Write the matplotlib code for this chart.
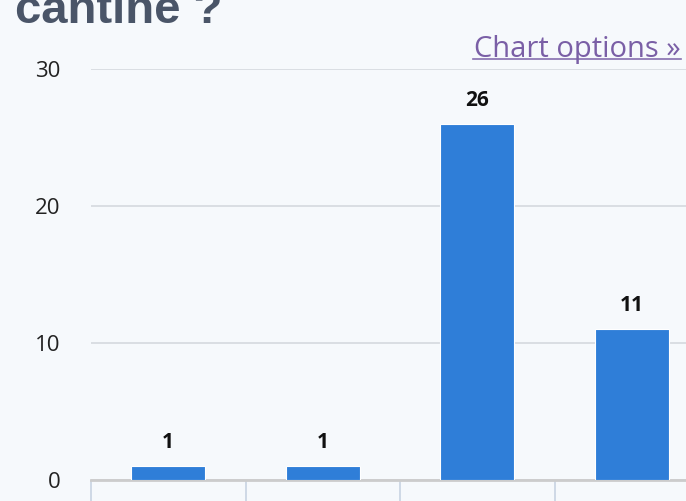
import matplotlib

matplotlib.use("Agg")
import matplotlib.pyplot as plt
from matplotlib.lines import Line2D

# ---------------------------------------------------------------- data
categories = ["A", "B", "C", "D"]
counts = [1, 1, 26, 11]
y_ticks = [0, 10, 20, 30]

BG = "#F6F9FC"
C_BAR = "#2F7ED8"
C_GRID = "#D5D9DE"
C_TITLE = "#4A5568"
C_LINK = "#7A5FA6"

W, H = 686, 501
fig = plt.figure(figsize=(W / 100, H / 100), dpi=100, facecolor=BG)

# axes extends past the right edge (the screenshot is cropped)
x0, x1 = 91, 709
y0, y1 = 480, 69
ax = fig.add_axes([x0 / W, 1 - y0 / H, (x1 - x0) / W, (y0 - y1) / H])
ax.set_facecolor(BG)

xs = list(range(len(categories)))
ax.bar(xs, counts, width=0.48, color=C_BAR, edgecolor="white", linewidth=0.8, zorder=3)
for x, v in zip(xs, counts):
    ax.annotate(str(v), (x, v), textcoords="offset points", xytext=(0, 9.5),
                ha="center", va="bottom", fontsize=15, fontweight="bold",
                color="#111111", family="Open Sans")

ax.set_xlim(-0.5, len(categories) - 0.5)
ax.set_ylim(0, 30)
ax.set_yticks(y_ticks)
ax.set_yticklabels([str(t) for t in y_ticks], family="Open Sans", fontsize=16, color="#222222")
ax.tick_params(axis="y", length=0, pad=22)
ax.yaxis.grid(True, color=C_GRID, lw=1.2, zorder=0)
ax.set_xticks([i - 0.5 for i in range(len(categories) + 1)])
ax.set_xticklabels([])
ax.tick_params(axis="x", length=17, width=1.2, color="#C8D3E2", direction="out")
for s in ("top", "right", "left"):
    ax.spines[s].set_visible(False)
ax.spines["bottom"].set_color("#CCCCCC")
ax.spines["bottom"].set_linewidth(2)

# title (cut off at the top, as in the screenshot) and link
fig.text(15 / W, 1 - 23 / H, "cantine ?", fontsize=34, fontweight="bold",
         color=C_TITLE, family="Liberation Sans", ha="left", va="baseline")
fig.text(681 / W, 1 - 57 / H, "Chart options »", fontsize=21, color=C_LINK,
         family="Open Sans", ha="right", va="baseline")
fig.add_artist(Line2D([473 / W, 681 / W], [1 - 59 / H, 1 - 59 / H], color=C_LINK,
                      lw=1.2, alpha=0.9))

fig.savefig("out.png", dpi=100, facecolor=BG)
